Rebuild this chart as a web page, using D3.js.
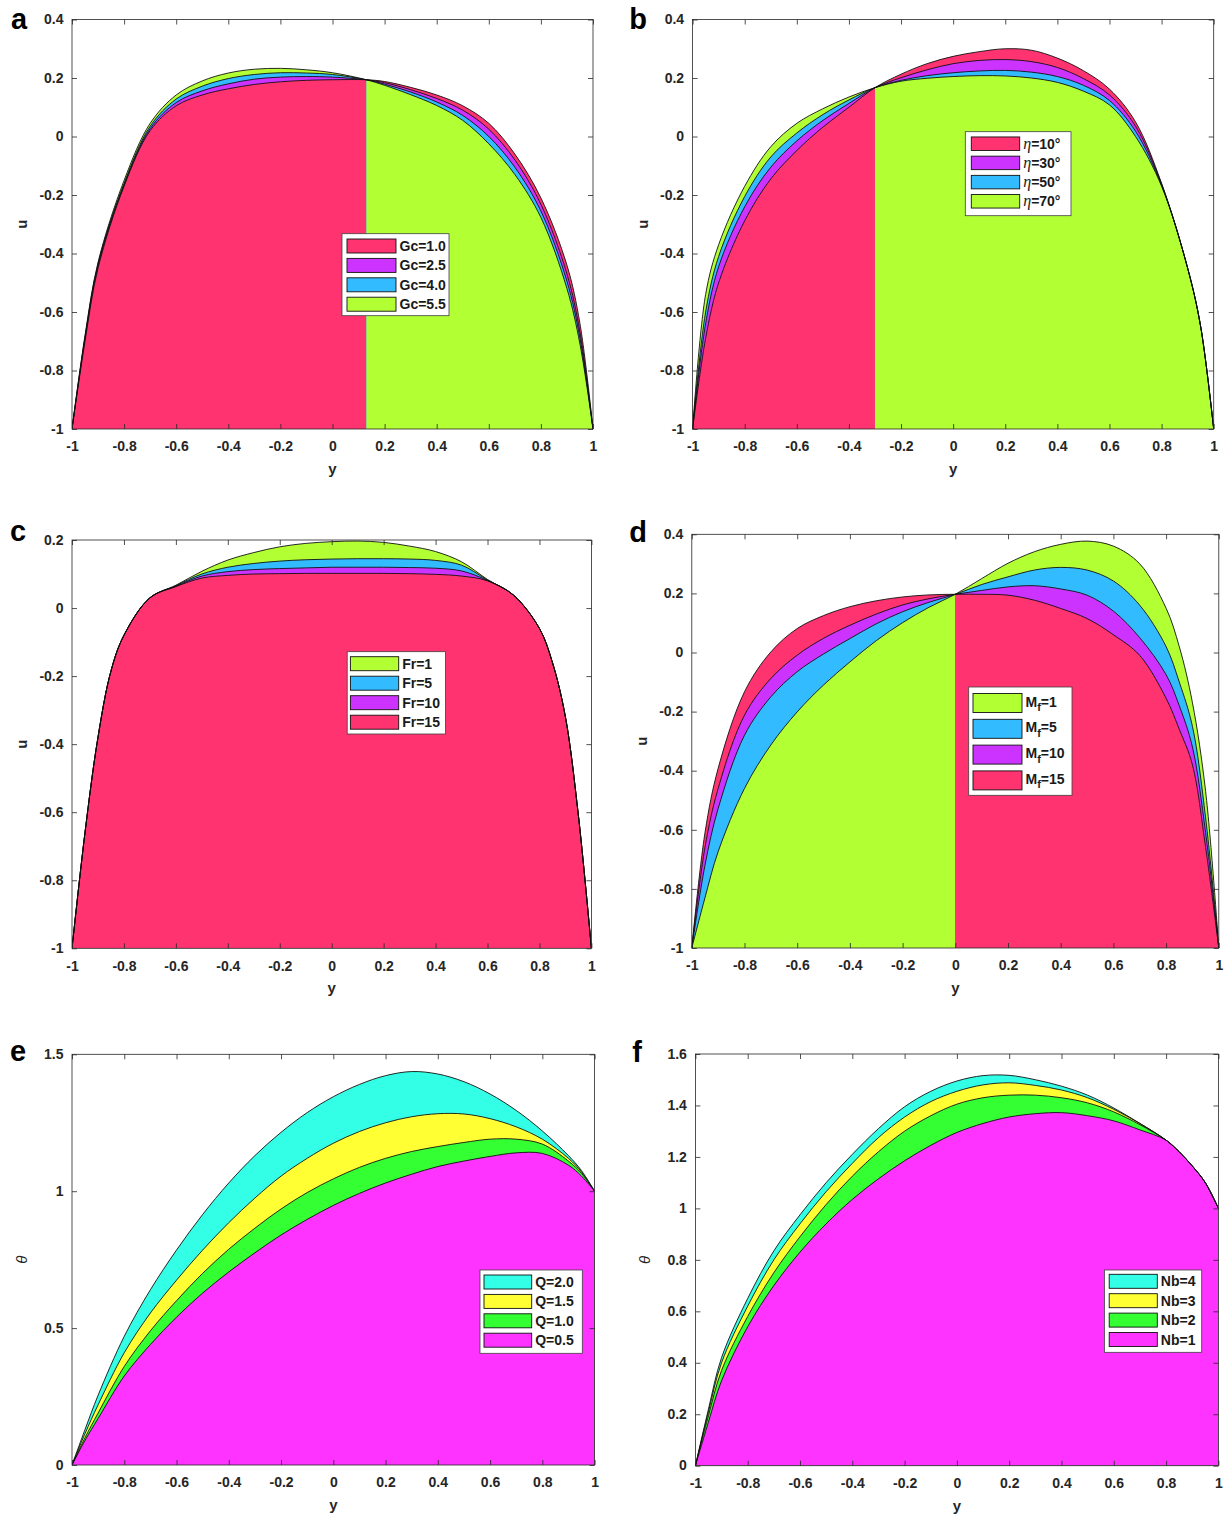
<!DOCTYPE html>
<html>
<head>
<meta charset="utf-8">
<script src="https://cdn.jsdelivr.net/npm/d3@7"></script>
<style>
  body { margin: 0; background: #fff; }
  text { font-family: "Liberation Sans", Arial, sans-serif; fill: #262626; }
</style>
</head>
<body>
<div id="chart"></div>
<script>
// ---- data ----
var ticksX = [-1, -0.8, -0.6, -0.4, -0.2, 0, 0.2, 0.4, 0.6, 0.8, 1];
var ticksU = [-1, -0.8, -0.6, -0.4, -0.2, 0, 0.2, 0.4];
var ticksUc = [-1, -0.8, -0.6, -0.4, -0.2, 0, 0.2];
var ticksThetaE = [0, 0.5, 1, 1.5];
var ticksThetaF = [0, 0.2, 0.4, 0.6, 0.8, 1, 1.2, 1.4, 1.6];

// panel a : Gc
var posA = [-1, -0.95, -0.9, -0.8, -0.7, -0.6, -0.5, -0.4, -0.3, -0.2, -0.1, 0, 0.13, 0.2, 0.3, 0.4, 0.5, 0.6, 0.7, 0.8, 0.9, 0.95, 1];
var gc10 = [-1, -0.70, -0.45, -0.17, 0.02, 0.105, 0.142, 0.163, 0.178, 0.187, 0.192, 0.194, 0.194, 0.188, 0.168, 0.142, 0.105, 0.045, -0.06, -0.21, -0.44, -0.64, -1];
var gc25 = [-1, -0.69, -0.44, -0.165, 0.027, 0.116, 0.156, 0.18, 0.196, 0.203, 0.205, 0.203, 0.194, 0.184, 0.16, 0.13, 0.09, 0.025, -0.08, -0.232, -0.47, -0.67, -1];
var gc40 = [-1, -0.685, -0.435, -0.16, 0.035, 0.128, 0.172, 0.198, 0.212, 0.218, 0.217, 0.212, 0.194, 0.179, 0.152, 0.118, 0.072, 0.0, -0.105, -0.255, -0.495, -0.69, -1];
var gc55 = [-1, -0.68, -0.43, -0.15, 0.045, 0.142, 0.19, 0.217, 0.23, 0.233, 0.228, 0.218, 0.194, 0.175, 0.143, 0.106, 0.055, -0.025, -0.13, -0.277, -0.52, -0.71, -1];
var crossA = [0.13];
var labelsA = ["Gc=1.0", "Gc=2.5", "Gc=4.0", "Gc=5.5"];

// panel b : eta
var posB = [-1, -0.95, -0.9, -0.8, -0.7, -0.6, -0.5, -0.4, -0.3, -0.2, -0.1, 0, 0.1, 0.2, 0.3, 0.4, 0.5, 0.6, 0.7, 0.8, 0.9, 0.95, 1];
var eta10 = [-1, -0.69, -0.50, -0.288, -0.145, -0.048, 0.032, 0.1, 0.167, 0.213, 0.249, 0.274, 0.29, 0.30, 0.295, 0.268, 0.225, 0.162, 0.05, -0.16, -0.45, -0.65, -1];
var eta30 = [-1, -0.64, -0.445, -0.24, -0.105, -0.015, 0.055, 0.113, 0.167, 0.201, 0.228, 0.249, 0.26, 0.263, 0.256, 0.236, 0.198, 0.142, 0.035, -0.163, -0.45, -0.65, -1];
var eta50 = [-1, -0.6, -0.41, -0.205, -0.07, 0.012, 0.075, 0.125, 0.167, 0.192, 0.208, 0.218, 0.224, 0.226, 0.22, 0.205, 0.175, 0.123, 0.018, -0.167, -0.45, -0.65, -1];
var eta70 = [-1, -0.54, -0.37, -0.17, -0.035, 0.045, 0.095, 0.135, 0.167, 0.189, 0.199, 0.205, 0.208, 0.207, 0.2, 0.185, 0.155, 0.108, 0.0, -0.17, -0.45, -0.65, -1];
var crossB = [-0.3];
var labelsB = ["10°", "30°", "50°", "70°"];

// panel c : Fr
var posC = [-1, -0.95, -0.9, -0.85, -0.8, -0.7, -0.6, -0.5, -0.4, -0.3, -0.2, -0.1, 0, 0.1, 0.2, 0.3, 0.4, 0.5, 0.6, 0.7, 0.8, 0.85, 0.9, 0.95, 1];
var fr1 = [-1, -0.66, -0.38, -0.185, -0.08, 0.03, 0.067, 0.108, 0.141, 0.163, 0.18, 0.19, 0.195, 0.197, 0.193, 0.182, 0.166, 0.136, 0.084, 0.038, -0.06, -0.16, -0.32, -0.61, -1];
var fr5 = [-1, -0.66, -0.38, -0.185, -0.08, 0.03, 0.066, 0.1, 0.12, 0.131, 0.138, 0.142, 0.144, 0.145, 0.145, 0.144, 0.14, 0.126, 0.082, 0.038, -0.06, -0.16, -0.32, -0.61, -1];
var fr10 = [-1, -0.66, -0.38, -0.185, -0.08, 0.03, 0.064, 0.094, 0.107, 0.113, 0.116, 0.118, 0.12, 0.12, 0.12, 0.119, 0.117, 0.109, 0.081, 0.038, -0.06, -0.16, -0.32, -0.61, -1];
var fr15 = [-1, -0.66, -0.38, -0.185, -0.08, 0.03, 0.063, 0.088, 0.096, 0.1, 0.101, 0.102, 0.102, 0.102, 0.102, 0.101, 0.099, 0.094, 0.08, 0.038, -0.06, -0.16, -0.32, -0.61, -1];
var labelsC = ["Fr=1", "Fr=5", "Fr=10", "Fr=15"];

// panel d : Mf
var posD = [-1, -0.95, -0.9, -0.8, -0.7, -0.6, -0.5, -0.4, -0.3, -0.2, -0.1, 0, 0.1, 0.2, 0.3, 0.4, 0.5, 0.6, 0.7, 0.8, 0.85, 0.9, 0.95, 1];
var mf1 = [-1, -0.83, -0.674, -0.46, -0.313, -0.201, -0.11, -0.032, 0.04, 0.101, 0.153, 0.197, 0.25, 0.302, 0.341, 0.366, 0.377, 0.36, 0.3, 0.15, 0.02, -0.17, -0.47, -1];
var mf5 = [-1, -0.72, -0.528, -0.28, -0.15, -0.065, -0.005, 0.047, 0.097, 0.138, 0.17, 0.197, 0.23, 0.256, 0.279, 0.288, 0.279, 0.242, 0.16, 0.02, -0.1, -0.25, -0.56, -1];
var mf10 = [-1, -0.66, -0.46, -0.212, -0.088, -0.009, 0.048, 0.092, 0.13, 0.161, 0.182, 0.197, 0.21, 0.222, 0.226, 0.215, 0.194, 0.14, 0.05, -0.075, -0.18, -0.32, -0.61, -1];
var mf15 = [-1, -0.61, -0.392, -0.133, 0.002, 0.081, 0.125, 0.155, 0.175, 0.188, 0.195, 0.197, 0.197, 0.194, 0.177, 0.149, 0.115, 0.06, -0.01, -0.155, -0.26, -0.38, -0.66, -1];
var crossD = [0];
var labelsD = ["1", "5", "10", "15"];

// panel e : Q
var posE = [-1, -0.95, -0.9, -0.8, -0.7, -0.6, -0.5, -0.4, -0.3, -0.2, -0.1, 0, 0.1, 0.2, 0.3, 0.4, 0.5, 0.6, 0.7, 0.8, 0.9, 0.95, 1];
var q20 = [0, 0.13, 0.255, 0.47, 0.64, 0.785, 0.915, 1.03, 1.13, 1.215, 1.287, 1.345, 1.39, 1.422, 1.437, 1.428, 1.4, 1.355, 1.295, 1.22, 1.13, 1.075, 1.0];
var q15 = [0, 0.115, 0.22, 0.41, 0.555, 0.675, 0.785, 0.885, 0.975, 1.055, 1.12, 1.175, 1.218, 1.25, 1.272, 1.283, 1.282, 1.265, 1.235, 1.19, 1.12, 1.07, 1.0];
var q10 = [0, 0.1, 0.19, 0.36, 0.49, 0.6, 0.7, 0.788, 0.865, 0.935, 0.995, 1.045, 1.087, 1.12, 1.145, 1.163, 1.178, 1.19, 1.19, 1.172, 1.11, 1.065, 1.0];
var q05 = [0, 0.09, 0.17, 0.325, 0.44, 0.54, 0.628, 0.705, 0.775, 0.84, 0.897, 0.948, 0.992, 1.03, 1.062, 1.09, 1.11, 1.127, 1.14, 1.138, 1.095, 1.055, 1.0];
var labelsE = ["Q=2.0", "Q=1.5", "Q=1.0", "Q=0.5"];

// panel f : Nb
var posF = [-1, -0.95, -0.9, -0.8, -0.7, -0.6, -0.5, -0.4, -0.3, -0.2, -0.1, 0, 0.1, 0.2, 0.3, 0.4, 0.5, 0.6, 0.7, 0.8, 0.85, 0.9, 0.95, 1];
var nb4 = [0, 0.22, 0.42, 0.65, 0.835, 0.975, 1.1, 1.21, 1.31, 1.395, 1.455, 1.495, 1.516, 1.517, 1.5, 1.475, 1.44, 1.39, 1.33, 1.265, 1.22, 1.165, 1.1, 1.0];
var nb3 = [0, 0.21, 0.40, 0.62, 0.80, 0.94, 1.065, 1.175, 1.275, 1.355, 1.415, 1.455, 1.48, 1.488, 1.478, 1.46, 1.43, 1.385, 1.33, 1.265, 1.22, 1.165, 1.1, 1.0];
var nb2 = [0, 0.195, 0.37, 0.58, 0.75, 0.89, 1.015, 1.125, 1.22, 1.3, 1.36, 1.405, 1.43, 1.44, 1.44, 1.43, 1.41, 1.375, 1.325, 1.265, 1.22, 1.165, 1.1, 1.0];
var nb1 = [0, 0.17, 0.33, 0.54, 0.70, 0.83, 0.94, 1.035, 1.115, 1.185, 1.245, 1.295, 1.33, 1.355, 1.368, 1.372, 1.36, 1.34, 1.305, 1.265, 1.22, 1.165, 1.1, 1.0];
var labelsF = ["Nb=4", "Nb=3", "Nb=2", "Nb=1"];

var pink = "#ff3370", purple = "#cc33ff", blue = "#33bbff", lime = "#b2ff33";
var cyan = "#33ffe6", yellow = "#ffff33", green = "#33ff33", magenta = "#ff33ff";

var svg = d3.select("#chart").append("svg")
    .attr("width", 1232)
    .attr("height", 1515);

function drawPanel(p) {
    var x = d3.scaleLinear().domain([-1, 1]).range([p.l, p.r]);
    var y = d3.scaleLinear().domain(p.yDomain).range([p.b, p.t]);
    var base = p.yDomain[0];
    var curve = d3.curveCatmullRom.alpha(0.5);

    var area = d3.area()
        .x(function (d, i) { return x(p.pos[i]); })
        .y0(y(base))
        .y1(function (d) { return y(d); })
        .curve(curve);
    var line = d3.line()
        .x(function (d, i) { return x(p.pos[i]); })
        .y(function (d) { return y(d); })
        .curve(curve);

    var plotClip = "plot-" + p.letter;
    svg.append("clipPath").attr("id", plotClip)
        .append("rect")
        .attr("x", p.l).attr("y", p.t)
        .attr("width", p.r - p.l).attr("height", p.b - p.t);

    // split at crossing points, in each piece the highest curve is painted first
    var edges = [-1].concat(p.splits || [], [1]);
    for (var k = 0; k < edges.length - 1; k++) {
        var e0 = edges[k], e1 = edges[k + 1];
        var id = "clip-" + p.letter + k;
        svg.append("clipPath").attr("id", id)
            .append("rect")
            .attr("x", x(e0)).attr("y", p.t)
            .attr("width", x(e1) - x(e0)).attr("height", p.b - p.t);

        var idx = [];
        p.pos.forEach(function (v, i) { if (v > e0 && v < e1) idx.push(i); });
        var order = p.series.slice().sort(function (a, b) {
            return d3.mean(idx, function (i) { return b.vals[i]; }) - d3.mean(idx, function (i) { return a.vals[i]; });
        });

        var g = svg.append("g").attr("clip-path", "url(#" + id + ")");
        order.forEach(function (s) {
            g.append("path")
                .attr("d", area(s.vals))
                .attr("fill", s.color);
        });
    }

    var lines = svg.append("g").attr("clip-path", "url(#" + plotClip + ")");
    p.series.forEach(function (s) {
        lines.append("path")
            .attr("d", line(s.vals))
            .attr("fill", "none")
            .attr("stroke", "#111")
            .attr("stroke-width", 0.9);
    });

    // axes, MATLAB style ticks pointing inward on all four sides
    var fmt = function (d) { return String(d); };
    var ax = svg.append("g").attr("transform", "translate(0," + p.b + ")")
        .call(d3.axisBottom(x).tickValues(ticksX).tickFormat(fmt).tickSizeInner(-5).tickSizeOuter(0).tickPadding(12.5));
    var ay = svg.append("g").attr("transform", "translate(" + p.l + ",0)")
        .call(d3.axisLeft(y).tickValues(p.ticksY).tickFormat(fmt).tickSizeInner(-5).tickSizeOuter(0).tickPadding(8.5));
    var at = svg.append("g").attr("transform", "translate(0," + p.t + ")")
        .call(d3.axisTop(x).tickValues(ticksX).tickFormat("").tickSizeInner(-5).tickSizeOuter(0));
    var ar = svg.append("g").attr("transform", "translate(" + p.r + ",0)")
        .call(d3.axisRight(y).tickValues(p.ticksY).tickFormat("").tickSizeInner(-5).tickSizeOuter(0));
    [ax, ay, at, ar].forEach(function (a) {
        a.select(".domain").remove();
        a.selectAll("line").attr("stroke", "#262626").attr("stroke-width", 0.8);
        a.selectAll("text")
            .attr("font-family", "Liberation Sans, Arial, sans-serif")
            .attr("font-size", 14)
            .attr("font-weight", "bold")
            .attr("fill", "#262626");
    });
    ay.selectAll("text").attr("dy", "0.3em");

    svg.append("rect")
        .attr("x", p.l).attr("y", p.t)
        .attr("width", p.r - p.l).attr("height", p.b - p.t)
        .attr("fill", "none")
        .attr("stroke", "#262626")
        .attr("stroke-width", 0.8);

    // axis titles
    svg.append("text")
        .attr("x", (p.l + p.r) / 2).attr("y", p.b + 45)
        .attr("text-anchor", "middle")
        .attr("font-size", 15).attr("font-weight", "bold")
        .text("y");
    var yl = svg.append("text")
        .attr("transform", "translate(" + (p.l - 45) + "," + ((p.t + p.b) / 2) + ") rotate(-90)")
        .attr("text-anchor", "middle")
        .text(p.ylabel);
    if (p.ylabel === "θ") {
        yl.attr("font-family", "Liberation Serif, serif").attr("font-style", "italic").attr("font-size", 15);
    } else {
        yl.attr("font-size", 15).attr("font-weight", "bold");
    }

    // panel letter
    svg.append("text")
        .attr("x", p.letterX).attr("y", p.letterY)
        .attr("text-anchor", "middle")
        .attr("font-size", 29).attr("font-weight", "bold")
        .style("fill", "#000")
        .text(p.letter);

    // legend
    var L = p.legend;
    svg.append("rect")
        .attr("x", L.x).attr("y", L.y).attr("width", L.w).attr("height", L.h)
        .attr("fill", "#fff").attr("stroke", "#404040").attr("stroke-width", 0.8);
    p.labels.forEach(function (lab, i) {
        var cy = L.row0 + i * L.step;
        svg.append("rect")
            .attr("x", L.sx).attr("y", cy - L.sh / 2)
            .attr("width", L.sw).attr("height", L.sh)
            .attr("fill", p.legendColors[i])
            .attr("stroke", "#111").attr("stroke-width", 0.9);
        var t = svg.append("text")
            .attr("x", L.sx + L.sw + 3.5)
            .attr("font-size", 14).attr("font-weight", "bold")
            .style("fill", "#1a1a1a");
        if (p.kind === "eta") {
            t.attr("y", cy + 5);
            t.append("tspan")
                .attr("font-family", "Liberation Serif, serif")
                .attr("font-style", "italic").attr("font-weight", "normal")
                .attr("font-size", 16)
                .text("η");
            t.append("tspan").text("=" + lab);
        } else if (p.kind === "mf") {
            t.attr("y", cy + 3.5);
            t.append("tspan").text("M");
            t.append("tspan").attr("font-size", 11).attr("dy", 4.5).text("f");
            t.append("tspan").attr("dy", -4.5).text("=" + lab);
        } else {
            t.attr("y", cy + 5).text(lab);
        }
    });
}

drawPanel({
    letter: "a", letterX: 19, letterY: 29,
    l: 72, r: 593, t: 19.5, b: 429, yDomain: [-1, 0.4], ticksY: ticksU, ylabel: "u",
    pos: posA, splits: crossA,
    series: [{ vals: gc10, color: pink }, { vals: gc25, color: purple }, { vals: gc40, color: blue }, { vals: gc55, color: lime }],
    labels: labelsA, legendColors: [pink, purple, blue, lime],
    legend: { x: 342, y: 233.7, w: 107, h: 82, sx: 347, sw: 49, sh: 14, row0: 246, step: 19.4 }
});

drawPanel({
    letter: "b", letterX: 638, letterY: 28.5,
    l: 692.6, r: 1213.7, t: 19.5, b: 429, yDomain: [-1, 0.4], ticksY: ticksU, ylabel: "u",
    pos: posB, splits: crossB,
    series: [{ vals: eta10, color: pink }, { vals: eta30, color: purple }, { vals: eta50, color: blue }, { vals: eta70, color: lime }],
    labels: labelsB, legendColors: [pink, purple, blue, lime], kind: "eta",
    legend: { x: 965.3, y: 131.7, w: 105.7, h: 84, sx: 971.3, sw: 48.4, sh: 13.5, row0: 143.7, step: 19.2 }
});

drawPanel({
    letter: "c", letterX: 18, letterY: 541,
    l: 72, r: 591.4, t: 540, b: 948.3, yDomain: [-1, 0.2], ticksY: ticksUc, ylabel: "u",
    pos: posC, splits: [],
    series: [{ vals: fr1, color: lime }, { vals: fr5, color: blue }, { vals: fr10, color: purple }, { vals: fr15, color: pink }],
    labels: labelsC, legendColors: [lime, blue, purple, pink],
    legend: { x: 347.2, y: 651.7, w: 98.2, h: 82.3, sx: 350.4, sw: 48.3, sh: 14, row0: 663.7, step: 19.5 }
});

drawPanel({
    letter: "d", letterX: 638, letterY: 541.5,
    l: 691.8, r: 1218.8, t: 534.3, b: 948, yDomain: [-1, 0.4], ticksY: ticksU, ylabel: "u",
    pos: posD, splits: crossD,
    series: [{ vals: mf1, color: lime }, { vals: mf5, color: blue }, { vals: mf10, color: purple }, { vals: mf15, color: pink }],
    labels: labelsD, legendColors: [lime, blue, purple, pink], kind: "mf",
    legend: { x: 968.7, y: 687, w: 103.3, h: 108.3, sx: 973, sw: 49, sh: 19, row0: 703, step: 25.8 }
});

drawPanel({
    letter: "e", letterX: 18, letterY: 1061,
    l: 72, r: 594.6, t: 1054.3, b: 1465, yDomain: [0, 1.5], ticksY: ticksThetaE, ylabel: "θ",
    pos: posE, splits: [],
    series: [{ vals: q20, color: cyan }, { vals: q15, color: yellow }, { vals: q10, color: green }, { vals: q05, color: magenta }],
    labels: labelsE, legendColors: [cyan, yellow, green, magenta],
    legend: { x: 480, y: 1270, w: 102.3, h: 83.3, sx: 484, sw: 47.7, sh: 14, row0: 1282, step: 19.4 }
});

drawPanel({
    letter: "f", letterX: 637, letterY: 1061.5,
    l: 695.4, r: 1218.4, t: 1054, b: 1465.7, yDomain: [0, 1.6], ticksY: ticksThetaF, ylabel: "θ",
    pos: posF, splits: [],
    series: [{ vals: nb4, color: cyan }, { vals: nb3, color: yellow }, { vals: nb2, color: green }, { vals: nb1, color: magenta }],
    labels: labelsF, legendColors: [cyan, yellow, green, magenta],
    legend: { x: 1104.4, y: 1270, w: 97.3, h: 82.3, sx: 1109.2, sw: 48.1, sh: 14, row0: 1281.3, step: 19.4 }
});
</script>
</body>
</html>
